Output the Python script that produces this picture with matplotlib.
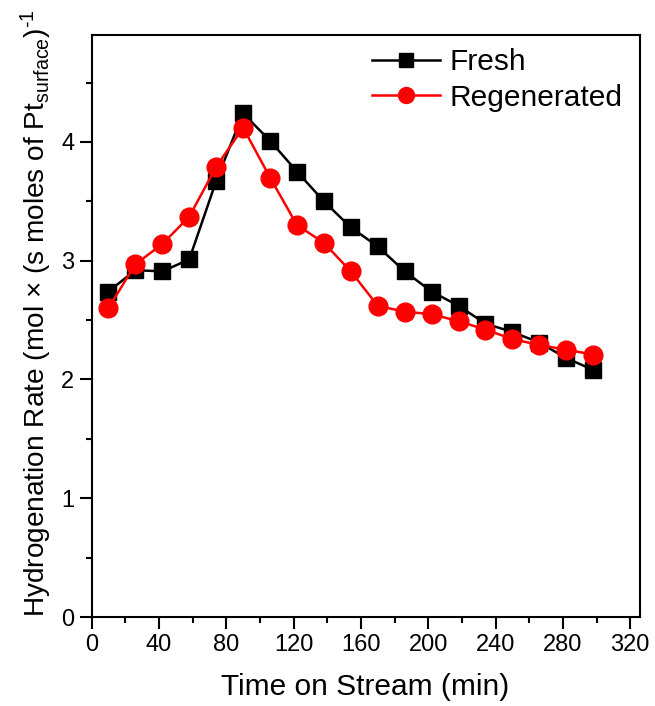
import numpy as np
import matplotlib.pyplot as plt
from matplotlib.ticker import MultipleLocator

plt.rcParams['font.family'] = ['Liberation Sans', 'DejaVu Sans']
plt.rcParams['mathtext.fontset'] = 'custom'
plt.rcParams['mathtext.rm'] = 'Liberation Sans'
plt.rcParams['mathtext.it'] = 'Liberation Sans'

# time on stream (min)
time = [10, 26, 42, 58, 74, 90, 106, 122, 138, 154, 170, 186, 202, 218, 234, 250, 266, 282, 298]
fresh = [2.74, 2.92, 2.91, 3.01, 3.67, 4.24, 4.01, 3.75, 3.50, 3.28, 3.12, 2.91, 2.74, 2.62,
         2.47, 2.40, 2.31, 2.18, 2.08]
regen = [2.60, 2.97, 3.14, 3.37, 3.79, 4.12, 3.70, 3.30, 3.15, 2.91, 2.62, 2.57, 2.55, 2.49,
         2.42, 2.34, 2.29, 2.25, 2.21]

fig = plt.figure(figsize=(6.55, 7.06), dpi=100)
ax = fig.add_axes([91.6/655, 1-617/706, (639.5-91.6)/655, (617-35)/706])

ax.plot(time, fresh, '-s', color='black', lw=1.8, markersize=12, label='Fresh')
ax.plot(time, regen, '-o', color='red', lw=1.8, markersize=13.5, label='Regenerated')

ax.set_xlim(0, 325.5)
ax.set_ylim(0, 4.9)
ax.xaxis.set_major_locator(MultipleLocator(40))
ax.xaxis.set_minor_locator(MultipleLocator(20))
ax.yaxis.set_major_locator(MultipleLocator(1))
ax.yaxis.set_minor_locator(MultipleLocator(0.5))
ax.tick_params(which='major', direction='out', length=8.5, width=1.5, labelsize=17, pad=4)
ax.tick_params(which='minor', direction='out', length=4.5, width=1.5)
for s in ax.spines.values():
    s.set_linewidth(1.5)

ax.set_xlabel('Time on Stream (min)', fontsize=21.5, labelpad=12)
ax.set_ylabel('Hydrogenation Rate (mol × (s moles of Pt$_{\\mathrm{surface}}$)$^{\u20101}$',
              fontsize=20.2)
ax.yaxis.set_label_coords(-0.069, 0.522)

ax.legend(loc='upper right', frameon=False, fontsize=21.5, handlelength=2.3,
          bbox_to_anchor=(0.993, 1.0), borderaxespad=0.05, labelspacing=0.25, handletextpad=0.3,
          markerscale=0.85)

fig.savefig('out.png', dpi=100)
